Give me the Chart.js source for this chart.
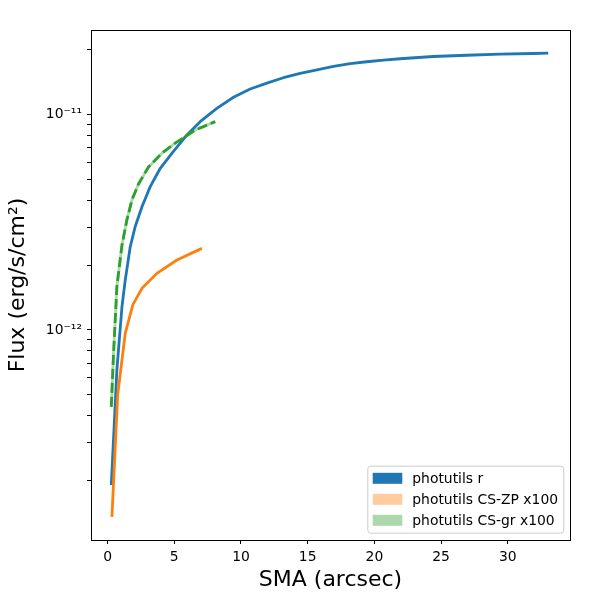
<!DOCTYPE html>
<html>
<head>
<meta charset="utf-8">
<script src="https://cdn.jsdelivr.net/npm/chart.js@4"></script>
<style>
  html, body { margin: 0; padding: 0; background: #fff; }
</style>
</head>
<body>
<canvas id="fluxChart" width="600" height="600"></canvas>
<script>
  // photutils r
  const rSma = [0.28, 0.7, 1.08, 1.33, 1.7, 2.07, 2.58, 3.2, 3.95, 4.82, 5.95, 6.94, 8.19, 9.44, 10.69, 11.94, 13.18, 14.44, 15.69, 16.93, 18.18, 19.43, 20.67, 21.93, 24.4, 26.92, 29.42, 31.9, 33.03];
  const rFlux = [1.91e-13, 6.53e-13, 1.28e-12, 1.71e-12, 2.43e-12, 3.01e-12, 3.73e-12, 4.62e-12, 5.62e-12, 6.59e-12, 8.02e-12, 9.24e-12, 1.066e-11, 1.2e-11, 1.31e-11, 1.395e-11, 1.478e-11, 1.549e-11, 1.609e-11, 1.669e-11, 1.716e-11, 1.753e-11, 1.785e-11, 1.81e-11, 1.854e-11, 1.879e-11, 1.9e-11, 1.914e-11, 1.92e-11];

  // photutils CS-ZP x100
  const zpSma = [0.33, 0.76, 1.33, 1.9, 2.58, 3.7, 5.2, 7.07];
  const zpFlux = [1.36e-13, 5.0e-13, 9.68e-13, 1.31e-12, 1.56e-12, 1.83e-12, 2.11e-12, 2.39e-12];

  // photutils CS-gr x100
  const grSma = [0.28, 0.45, 0.7, 1.08, 1.45, 1.83, 2.32, 3.07, 4.07, 5.07, 6.57, 8.07];
  const grFlux = [4.4e-13, 7.8e-13, 1.59e-12, 2.47e-12, 3.24e-12, 4.01e-12, 4.75e-12, 5.7e-12, 6.6e-12, 7.35e-12, 8.45e-12, 9.25e-12];

  const seriesLabels = ["photutils r", "photutils CS-ZP x100", "photutils CS-gr x100"];
  const xTickValues = [0, 5, 10, 15, 20, 25, 30];
  const yMajorExps = [-12, -11];

  const BLUE = "#1f77b4";
  const ORANGE = "#ff7f0e";
  const GREEN = "#2ca02c";
  const legendFills = [BLUE, "rgba(255, 127, 14, 0.4)", "rgba(44, 160, 44, 0.4)"];

  const toPoints = (xs, ys) => xs.map((x, i) => ({ x, y: ys[i] }));

  const SUP = { "-": "\u207b", "0": "\u2070", "1": "\u00b9", "2": "\u00b2", "3": "\u00b3",
    "4": "\u2074", "5": "\u2075", "6": "\u2076", "7": "\u2077", "8": "\u2078", "9": "\u2079" };
  const powLabel = (e) => "10" + String(e).split("").map((c) => SUP[c]).join("");

  Chart.defaults.font.family = "'DejaVu Sans', sans-serif";
  Chart.defaults.color = "#000";

  // axes frame + legend inside the plot, like matplotlib
  const framePlugin = {
    id: "frame",
    afterDatasetsDraw(chart) {
      const { ctx, chartArea: a } = chart;
      ctx.save();
      ctx.strokeStyle = "#000";
      ctx.lineWidth = 1;
      ctx.strokeRect(Math.round(a.left) + 0.5, Math.round(a.top) + 0.5,
        Math.round(a.right - a.left), Math.round(a.bottom - a.top));

      const boxW = 196, boxH = 67;
      const bx = a.right - 6.7 - boxW;
      const by = a.bottom - 7.3 - boxH;
      ctx.beginPath();
      ctx.roundRect(bx + 0.5, by + 0.5, boxW, boxH, 3);
      ctx.fillStyle = "rgba(255, 255, 255, 0.8)";
      ctx.fill();
      ctx.strokeStyle = "#cccccc";
      ctx.stroke();

      ctx.font = "13.9px 'DejaVu Sans'";
      ctx.textBaseline = "middle";
      seriesLabels.forEach((label, i) => {
        const cy = by + 12.6 + i * 21;
        ctx.fillStyle = legendFills[i];
        ctx.fillRect(bx + 5.4, cy - 5.5, 29.6, 11);
        ctx.fillStyle = "#000";
        ctx.fillText(label, bx + 45, cy + 1);
      });
      ctx.restore();
    },
  };

  function render() {
    const ctx = document.getElementById("fluxChart").getContext("2d");
    new Chart(ctx, {
      type: "line",
      data: {
        datasets: [
          {
            label: seriesLabels[2],
            data: toPoints(grSma, grFlux),
            borderColor: GREEN,
            borderWidth: 2.8,
            borderDash: [10, 4],
            order: 0,
          },
          {
            label: seriesLabels[2] + " band",
            data: toPoints(grSma, grFlux),
            borderColor: "rgba(44, 160, 44, 0.4)",
            borderWidth: 2.8,
            order: 1,
          },
          {
            label: seriesLabels[1],
            data: toPoints(zpSma, zpFlux),
            borderColor: ORANGE,
            borderWidth: 2.8,
            order: 2,
          },
          {
            label: seriesLabels[0],
            data: toPoints(rSma, rFlux),
            borderColor: BLUE,
            borderWidth: 2.8,
            order: 3,
          },
        ],
      },
      options: {
        responsive: false,
        animation: false,
        parsing: false,
        elements: {
          point: { radius: 0 },
          line: { tension: 0, fill: false, borderCapStyle: "butt", borderJoinStyle: "round" },
        },
        layout: { padding: { left: 5, right: 30, top: 30, bottom: 7 } },
        plugins: {
          legend: { display: false },
          tooltip: { enabled: false },
        },
        scales: {
          x: {
            type: "linear",
            min: -1.24,
            max: 34.66,
            afterFit: (scale) => { scale.height = 53; },
            afterBuildTicks: (scale) => {
              scale.ticks = xTickValues.map((v) => ({ value: v }));
            },
            grid: { display: true, drawOnChartArea: false, tickLength: 4, tickColor: "#000" },
            border: { display: false },
            ticks: { font: { size: 13.9 }, padding: 5, maxRotation: 0, autoSkip: false },
            title: {
              display: true,
              text: "SMA (arcsec)",
              font: { size: 22 },
              padding: 0,
            },
          },
          y: {
            type: "logarithmic",
            min: 1.062e-13,
            max: 2.46e-11,
            afterFit: (scale) => { scale.width = 86; },
            grid: { display: true, drawOnChartArea: false, tickLength: 4, tickColor: "#000" },
            border: { display: false },
            ticks: {
              font: { size: 13.9 },
              padding: 5,
              autoSkip: false,
              callback: (value) => {
                const e = Math.floor(Math.log10(value) + 1e-9);
                const r = value / Math.pow(10, e);
                if (Math.abs(r - Math.round(r)) > 1e-6) return null;
                if (Math.round(r) === 1 && yMajorExps.includes(e)) return powLabel(e);
                return "";
              },
            },
            title: {
              display: true,
              text: "Flux (erg/s/cm\u00b2)",
              font: { size: 22 },
              padding: 0,
            },
          },
        },
      },
      plugins: [framePlugin],
    });
  }

  render();
</script>
</body>
</html>
